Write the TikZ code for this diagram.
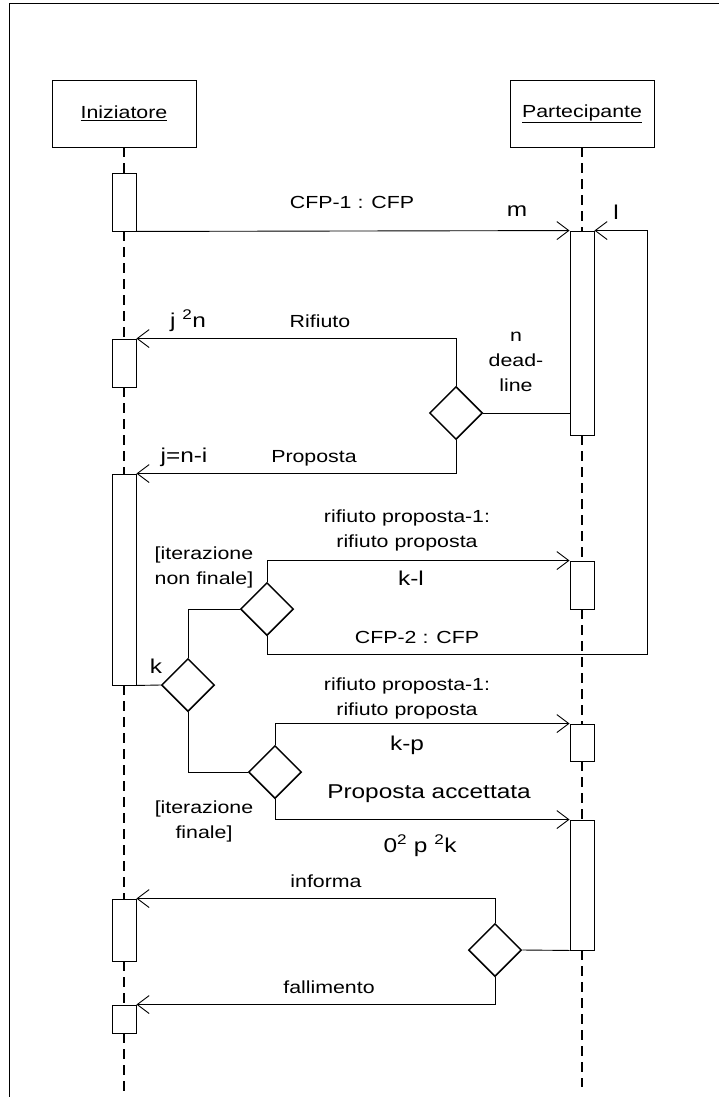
\documentclass[tikz,border=0pt]{standalone}
\usepackage{fontspec}
\setmainfont{Liberation Sans}[FakeStretch=1.22]
\usetikzlibrary{arrows.meta, positioning, calc, shapes}
\tikzset{
    actor/.style={draw, line width=0.9pt, minimum width=144pt, minimum height=67pt, inner sep=0pt, font=\fontsize{17.5}{20}\selectfont},
    act/.style={draw, line width=0.9pt, fill=white, minimum width=24pt, inner sep=0pt},
    choice/.style={draw, diamond, line width=1.5pt, minimum width=53pt, minimum height=53pt, inner sep=0pt},
    life/.style={line width=1.8pt, dash pattern=on 10pt off 6pt},
    msg/.style={line width=0.9pt, -{Straight Barb[length=12pt, width=18pt]}},
    link/.style={line width=0.9pt},
    lbl/.style={font=\fontsize{17.5}{25}\selectfont, inner sep=0pt, anchor=base},
    biglbl/.style={font=\fontsize{20}{26}\selectfont, inner sep=0pt, anchor=base}
}

\begin{document}
\begin{tikzpicture}[x=1pt, y=-1pt]
    \useasboundingbox (0,0) rectangle (719,1097);
    % cornice
    \draw[line width=1pt] (9,1097) -- (9,4) -- (719,4);

    % Iniziatore
    \node[actor] (ini) at (124,113.5) {\underline{Iniziatore}};
    \node[act, minimum height=58pt] (a1) at (124,202) {};
    \node[act, minimum height=48pt] (a2) at (124,363) {};
    \node[act, minimum height=211pt] (a3) at (124,579.5) {};
    \node[act, minimum height=62pt] (a4) at (124,930) {};
    \node[act, minimum height=28pt] (a5) at (124,1019) {};
    \coordinate (iniend) at (124,1095);

    % Partecipante
    \node[actor] (par) at (582,113.5) {\underline{Partecipante}};
    \node[act, minimum height=204pt] (p1) at (582,333) {};
    \node[act, minimum height=48pt] (p2) at (582,585) {};
    \node[act, minimum height=37pt] (p3) at (582,742.5) {};
    \node[act, minimum height=130pt] (p4) at (582,885) {};
    \coordinate (parend) at (582,1087);

    % linee di vita
    \draw[life] (ini) -- (a1);
    \draw[life] (a1) -- (a2);
    \draw[life] (a2) -- (a3);
    \draw[life] (a3) -- (a4);
    \draw[life] (a4) -- (a5);
    \draw[life] (a5) -- (iniend);
    \draw[life] (par) -- (p1);
    \draw[life] (p1) -- (p2);
    \draw[life] (p2) -- (p3);
    \draw[life] (p3) -- (p4);
    \draw[life] (p4) -- (parend);

    % scelte
    \node[choice] (d1) at (456,413) {};
    \node[choice] (d2) at (267,609) {};
    \node[choice] (d3) at (188,685) {};
    \node[choice] (d4) at (275,772) {};
    \node[choice] (d5) at (495,950) {};
    \coordinate (cfpturn) at (647,654);

    % messaggi
    \draw[msg] (a1.south east) -- (p1.north west);
    \draw[link] (d1.east) -- (d1.east -| p1.west);
    \draw[msg] (d1.north) |- (a2.north east);
    \draw[msg] (d1.south) |- (a3.north east);
    \draw[link] (a3.south east) -- (d3.west);
    \draw[link] (d3.north) |- (d2.west);
    \draw[msg] (d2.north) |- (p2.north west);
    \draw[msg] (d2.south) |- (cfpturn) |- (p1.north east);
    \draw[link] (d3.south) |- (d4.west);
    \draw[msg] (d4.north) |- (p3.north west);
    \draw[msg] (d4.south) |- (p4.north west);
    \draw[link] (d5.east) -- (p4.south west);
    \draw[msg] (d5.north) |- (a4.north east);
    \draw[msg] (d5.south) |- (a5.north east);

    % etichette
    \node[lbl] (tcfp1) at (352,208) {CFP-1 : CFP};
    \node[biglbl] (tm) at (517,216) {m};
    \node[biglbl] (tl) at (616,219) {l};
    \node[lbl] (trif) at (320,327) {Rifiuto};
    \node[biglbl] (tjn) at (188,327) {j \textsuperscript{2}n};
    \node[lbl, align=center] (tdead) at (516,391) {n\\dead-\\line};
    \node[lbl] (tprop) at (314,462) {Proposta};
    \node[biglbl] (tjni) at (184,462) {j=n-i};
    \node[lbl, align=center] (trp1) at (407,547) {rifiuto proposta-1:\\rifiuto proposta};
    \node[lbl, align=center] (titer1) at (204,584) {[iterazione\\non finale]};
    \node[biglbl] (tkl) at (411,585) {k-l};
    \node[lbl] (tcfp2) at (417,643) {CFP-2 : CFP};
    \node[biglbl] (tk) at (156,673) {k};
    \node[lbl, align=center] (trp2) at (407,715) {rifiuto proposta-1:\\rifiuto proposta};
    \node[biglbl] (tkp) at (407,750) {k-p};
    \node[biglbl] (tacc) at (429,798) {Proposta accettata};
    \node[lbl, align=center] (titer2) at (204,838) {[iterazione\\finale]};
    \node[biglbl] (tpk) at (420,852) {0\textsuperscript{2} p \textsuperscript{2}k};
    \node[lbl] (tinf) at (326,887) {informa};
    \node[lbl] (tfal) at (329,993) {fallimento};
\end{tikzpicture}
\end{document}
